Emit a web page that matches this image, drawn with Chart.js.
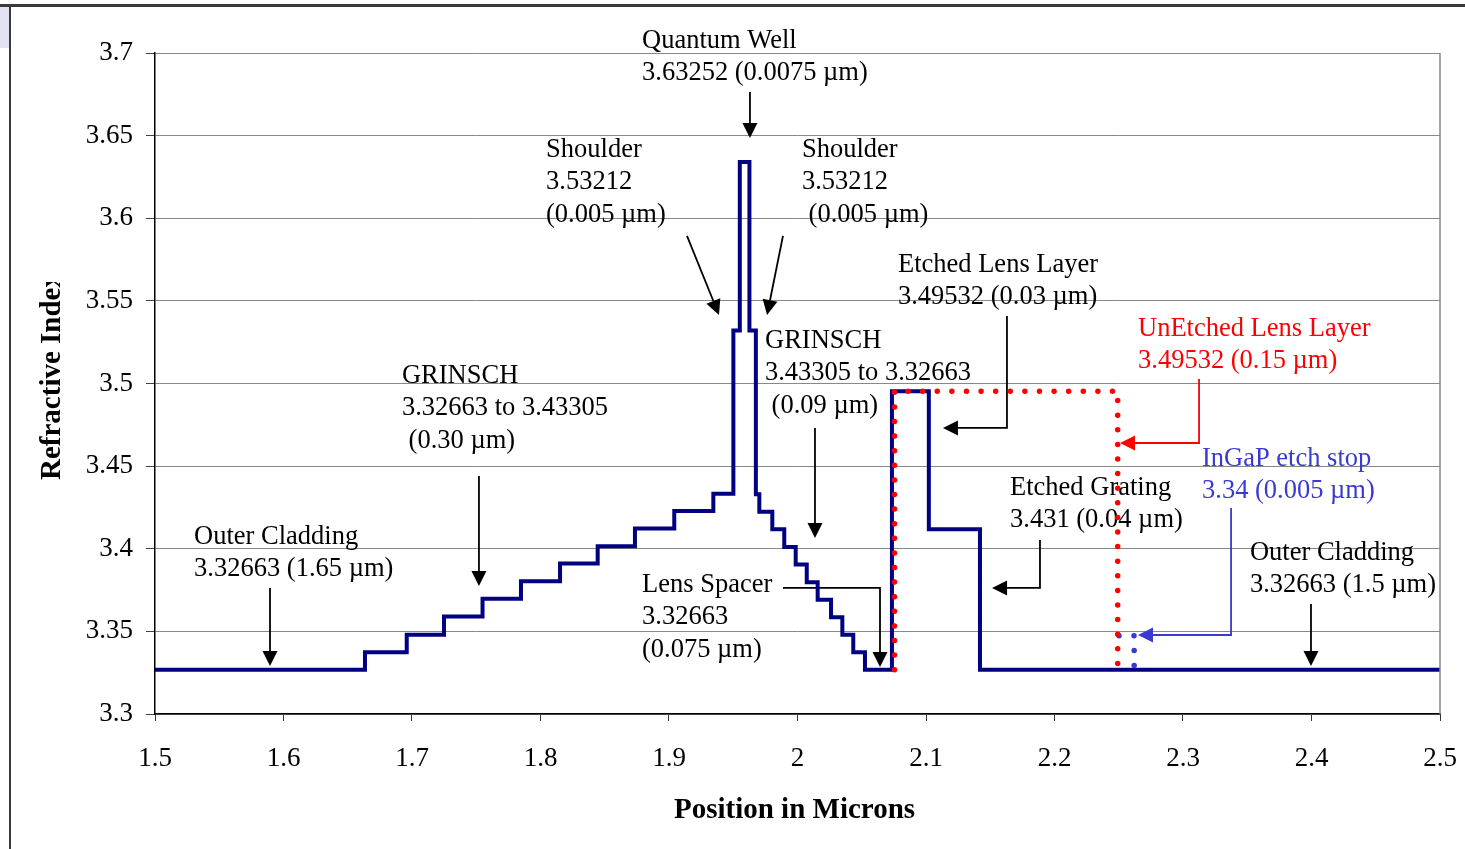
<!DOCTYPE html>
<html><head><meta charset="utf-8">
<script src="https://cdn.jsdelivr.net/npm/chart.js@4.4.1/dist/chart.umd.min.js"></script>
<style>
html,body{margin:0;padding:0;background:#fff;}
#wrap{position:relative;width:1465px;height:849px;overflow:hidden;background:#fff;}
canvas{position:absolute;left:0;top:0;}
.frameTop{position:absolute;left:0;top:4px;width:1465px;height:3px;background:#3a3a3a;}
.frameLeft{position:absolute;left:9px;top:5px;width:2px;height:844px;background:#3a3a3a;}
.tab{position:absolute;left:0;top:7px;width:9px;height:41px;background:#e2e2f2;}
</style></head>
<body><div id="wrap"><canvas id="c" width="1465" height="849"></canvas><div class="tab"></div><div class="frameTop"></div><div class="frameLeft"></div></div>
<script>
// ---- data ----
const layerStart = [1.5, 1.6634, 1.6959, 1.7249, 1.7549, 1.7848, 1.8152, 1.8445, 1.8735, 1.9041, 1.9345,
  1.9501, 1.9551, 1.9626, 1.9676, 1.9703, 1.9804, 1.9897, 1.9986, 2.0072, 2.0157, 2.0261, 2.0349, 2.0434,
  2.0525, 2.0735, 2.1022, 2.1420, 2.5];
const layerIndex = [3.3268, 3.3373, 3.3480, 3.3590, 3.3697, 3.3804, 3.3910, 3.4015, 3.4122, 3.4228, 3.4333,
  3.5321, 3.6340, 3.5321, 3.4330, 3.4224, 3.4118, 3.4011, 3.3905, 3.3798, 3.3692, 3.3586, 3.3479, 3.3373,
  3.3268, 3.4953, 3.4118, 3.3268, 3.3268];
const unetchedX = [2.0755, 2.0755, 2.2492, 2.2492];
const unetchedY = [3.3268, 3.4953, 3.4953, 3.3268];
const etchStopX = [2.2502, 2.2620, 2.2620];
const etchStopY = [3.3474, 3.3474, 3.3268];
const xTickLabels = ['1.5','1.6','1.7','1.8','1.9','2','2.1','2.2','2.3','2.4','2.5'];
const yTickLabels = ['3.3','3.35','3.4','3.45','3.5','3.55','3.6','3.65','3.7'];

// annotations (anchored in data coordinates)
const notes = [
  {lines:['Quantum Well','3.63252 (0.0075 µm)'], x:1.8790, y:3.7085, color:'#000'},
  {lines:['Shoulder','3.53212','(0.005 µm)'], x:1.8043, y:3.6425, color:'#000'},
  {lines:['Shoulder','3.53212',' (0.005 µm)'], x:2.0035, y:3.6425, color:'#000'},
  {lines:['Etched Lens Layer','3.49532 (0.03 µm)'], x:2.0782, y:3.5729, color:'#000'},
  {lines:['UnEtched Lens Layer','3.49532 (0.15 µm)'], x:2.2650, y:3.5342, color:'#ff0000'},
  {lines:['GRINSCH','3.43305 to 3.32663',' (0.09 µm)'], x:1.9747, y:3.5269, color:'#000'},
  {lines:['GRINSCH','3.32663 to 3.43305',' (0.30 µm)'], x:1.6922, y:3.5057, color:'#000'},
  {lines:['Outer Cladding','3.32663 (1.65 µm)'], x:1.5304, y:3.4083, color:'#000'},
  {lines:['Lens Spacer','3.32663','(0.075 µm)'], x:1.8790, y:3.3793, color:'#000'},
  {lines:['Etched Grating','3.431 (0.04 µm)'], x:2.1654, y:3.4380, color:'#000'},
  {lines:['InGaP etch stop','3.34 (0.005 µm)'], x:2.3148, y:3.4555, color:'#3a3ad0'},
  {lines:['Outer Cladding','3.32663 (1.5 µm)'], x:2.3521, y:3.3986, color:'#000'}
];
const arrows = [
  {pts:[[1.9630,3.6764],[1.9630,3.6486]], color:'#000'},
  {pts:[[1.9140,3.5893],[1.9389,3.5415]], color:'#000'},
  {pts:[[1.9887,3.5893],[1.9763,3.5415]], color:'#000'},
  {pts:[[2.1630,3.5408],[2.1630,3.4731],[2.1132,3.4731]], color:'#000'},
  {pts:[[2.3125,3.5027],[2.3125,3.4640],[2.2510,3.4640]], color:'#ff0000'},
  {pts:[[2.0136,3.4731],[2.0136,3.4065]], color:'#000'},
  {pts:[[1.7521,3.4440],[1.7521,3.3775]], color:'#000'},
  {pts:[[1.5895,3.3763],[1.5895,3.3290]], color:'#000'},
  {pts:[[1.9887,3.3763],[2.0642,3.3763],[2.0642,3.3284]], color:'#000'},
  {pts:[[2.1887,3.4053],[2.1887,3.3763],[2.1514,3.3763]], color:'#000'},
  {pts:[[2.3374,3.4247],[2.3374,3.3478],[2.2650,3.3478]], color:'#3a3ad0'},
  {pts:[[2.3996,3.3666],[2.3996,3.3290]], color:'#000'}
];

const SERIF = '"Liberation Serif", "Times New Roman", serif';

function drawArrow(ctx, pts, color){
  ctx.strokeStyle = color; ctx.fillStyle = color; ctx.lineWidth = 1.8;
  const n = pts.length;
  const [tx,ty] = pts[n-1], [sx,sy] = pts[n-2];
  const ang = Math.atan2(ty-sy, tx-sx);
  const L = 15, W = 7.5;
  const bx = tx - L*Math.cos(ang), by = ty - L*Math.sin(ang);
  ctx.beginPath();
  ctx.moveTo(pts[0][0], pts[0][1]);
  for (let i=1;i<n-1;i++) ctx.lineTo(pts[i][0], pts[i][1]);
  ctx.lineTo(bx, by);
  ctx.stroke();
  ctx.beginPath();
  ctx.moveTo(tx, ty);
  ctx.lineTo(bx + W*Math.sin(ang), by - W*Math.cos(ang));
  ctx.lineTo(bx - W*Math.sin(ang), by + W*Math.cos(ang));
  ctx.closePath();
  ctx.fill();
}

const annoPlugin = {
  id: 'anno',
  beforeDatasetsDraw(chart){
    const {ctx, scales:{x, y}} = chart;
    const px = v => x.getPixelForValue(v), py = v => y.getPixelForValue(v);
    ctx.save();
    ctx.font = '26.5px ' + SERIF;
    ctx.textBaseline = 'middle'; ctx.textAlign = 'left';
    for (const a of notes){
      ctx.fillStyle = a.color;
      a.lines.forEach((t,i) => ctx.fillText(t, px(a.x), py(a.y) + 2 + i*32.3));
    }
    for (const ar of arrows){
      drawArrow(ctx, ar.pts.map(p => [px(p[0]), py(p[1])]), ar.color);
    }
    ctx.restore();
  },
  afterDraw(chart){
    const {ctx, chartArea:ca} = chart;
    ctx.save();
    // right border of plot area
    ctx.strokeStyle = '#888'; ctx.lineWidth = 1.5;
    ctx.beginPath(); ctx.moveTo(ca.right, ca.top); ctx.lineTo(ca.right, ca.bottom); ctx.stroke();
    // x title
    ctx.fillStyle = '#000';
    ctx.font = 'bold 29px ' + SERIF;
    ctx.textAlign = 'center'; ctx.textBaseline = 'middle';
    ctx.fillText('Position in Microns', (ca.left+ca.right)/2 - 3, ca.bottom + 97);
    // y title (clipped at top as in the reference)
    ctx.beginPath(); ctx.rect(0, ca.top + 229, ca.left, 1000); ctx.clip();
    ctx.translate(ca.left - 102, (ca.top+ca.bottom)/2 - 7);
    ctx.rotate(-Math.PI/2);
    ctx.fillText('Refractive Index', 0, 0);
    ctx.restore();
  }
};

const findLabel = (arr, v) => { const s = arr.find(s => Math.abs(parseFloat(s) - v) < 1e-6); return s === undefined ? '' : s; };

new Chart(document.getElementById('c'), {
  type: 'line',
  data: {
    datasets: [
      {label:'UnEtched Lens Layer', data: unetchedX.map((v,i)=>({x:v, y:unetchedY[i]})),
       borderColor:'#ff0000', borderWidth:5.5, borderDash:[0,14.6], borderCapStyle:'round', borderJoinStyle:'round',
       pointRadius:0, fill:false, tension:0, order:0},
      {label:'InGaP etch stop', data: etchStopX.map((v,i)=>({x:v, y:etchStopY[i]})),
       borderColor:'#3a3ad0', borderWidth:5.5, borderDash:[0,15], borderCapStyle:'round', borderJoinStyle:'round',
       pointRadius:0, fill:false, tension:0, order:1},
      {label:'Refractive Index', data: layerStart.map((v,i)=>({x:v, y:layerIndex[i]})),
       stepped:true, borderColor:'#000080', borderWidth:4, borderJoinStyle:'miter', borderCapStyle:'butt',
       pointRadius:0, fill:false, order:2}
    ]
  },
  options: {
    responsive:false, animation:false, devicePixelRatio:1,
    layout:{padding:{top:53, right:25, left:0, bottom:0}},
    plugins:{legend:{display:false}, tooltip:{enabled:false}, title:{display:false}},
    scales:{
      x:{type:'linear', min:1.5, max:2.5,
         afterFit(s){ s.height = 135; s.paddingLeft = 0; s.paddingRight = 0; },
         ticks:{stepSize:0.1, autoSkip:false, maxRotation:0, padding:22, color:'#000',
                font:{family:SERIF, size:27}, callback:(v)=>findLabel(xTickLabels, v)},
         grid:{drawOnChartArea:false, drawTicks:true, tickLength:7, color:'#333'},
         border:{color:'#000', width:1.5}},
      y:{type:'linear', min:3.3, max:3.7,
         afterFit(s){ s.width = 155; },
         ticks:{stepSize:0.05, autoSkip:false, padding:13, color:'#000',
                font:{family:SERIF, size:27}, callback:(v)=>findLabel(yTickLabels, v)},
         grid:{color:'#888', lineWidth:1, tickLength:9, tickColor:'#444'},
         border:{color:'#000', width:1.5}}
    }
  },
  plugins:[annoPlugin]
});
</script>
</body></html>
